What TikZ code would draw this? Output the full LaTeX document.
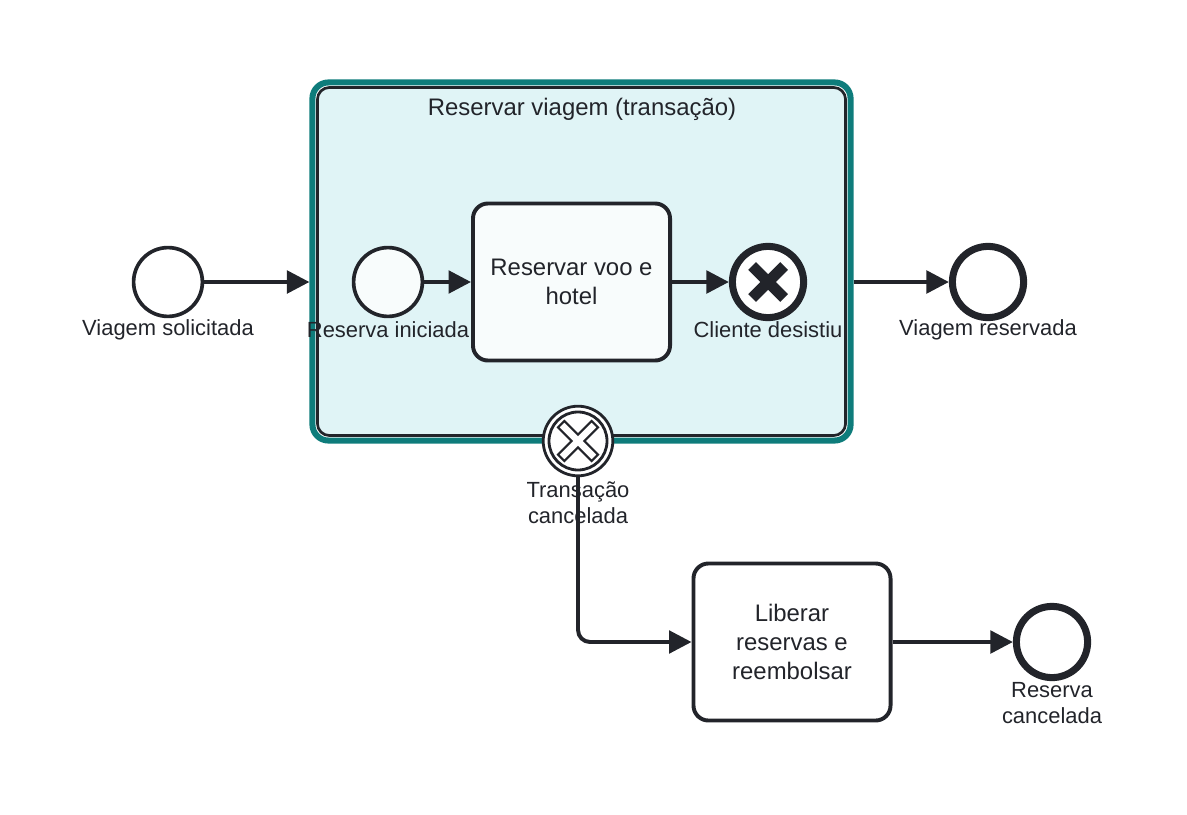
\documentclass[tikz,border=0pt]{standalone}
\usepackage{fontspec}
\setmainfont{Liberation Sans}
\usetikzlibrary{arrows.meta,positioning}
\definecolor{ink}{HTML}{22242A}
\definecolor{txteal}{HTML}{0E7C7B}
\definecolor{txfill}{HTML}{E0F4F6}
\definecolor{evfill}{HTML}{F8FCFC}
\newcommand{\lblsize}{\fontsize{15.6}{18.5}\selectfont}
\newcommand{\tasksize}{\fontsize{17}{20.5}\selectfont}

\begin{document}
\begin{tikzpicture}[x=0.025cm, y=-0.025cm,
    flow/.style={draw=ink, line width=2.8pt, -{Triangle[length=16pt,width=16pt]}},
    event/.style={circle, draw=ink, fill=white, line width=2.6pt, minimum size=1.72cm, inner sep=0pt},
    endevent/.style={event, line width=5pt, minimum size=1.78cm},
    task/.style={rectangle, rounded corners=0.375cm, draw=ink, fill=white, line width=2.8pt,
      minimum width=4.925cm, minimum height=3.925cm, align=center, font=\tasksize, text=ink},
    lbl/.style={align=center, font=\lblsize, text=ink, inner sep=0pt}]
  \useasboundingbox (0,0) rectangle (1187,814);
  % transaction
  \node[rectangle, rounded corners=0.4cm, draw=txteal, fill=white, line width=4.3pt,
    minimum width=13.45cm, minimum height=8.95cm] (tx) at (581.5,261.5) {};
  \node[rectangle, rounded corners=0.3cm, draw=ink, fill=txfill, line width=1.9pt,
    minimum width=13.2cm, minimum height=8.7cm] (tx-in) at (581.5,261.5) {};
  \node[font=\tasksize, text=ink] (tx-title) at (582,109) {Reservar viagem (transação)};

  % events and tasks
  \node[event] (vs) at (168,282) {};
  \node[event, fill=evfill] (ri) at (388,282) {};
  \node[task, fill=evfill] (rvh) at (571.5,282) {Reservar voo e\\hotel};
  \node[endevent] (cd) at (768,282) {};
  \node[endevent] (vr) at (988,282) {};
  \node[task] (lib) at (792,642) {Liberar\\reservas e\\reembolsar};
  \node[endevent] (rc) at (1052,642) {};
  \node[circle, draw=ink, fill=white, line width=2pt, minimum size=1.74cm, inner sep=0pt] (tc) at (578,441) {};
  \node[circle, draw=ink, line width=2pt, minimum size=1.45cm, inner sep=0pt] (tc-in) at (578,441) {};

  % cancel markers
  \begin{scope}[shift={(cd.center)}]
    \draw[ink, line width=7.8pt] (-16,-16) -- (16,16) (-16,16) -- (16,-16);
  \end{scope}
  \begin{scope}[shift={(tc.center)}, rotate=45]
    \def\h{4.5} \def\r{23.8}
    \draw[ink, line width=1.5pt, fill=white, line join=miter]
      (\h,\h) -- (\r,\h) -- (\r,-\h) -- (\h,-\h) -- (\h,-\r) -- (-\h,-\r) -- (-\h,-\h)
      -- (-\r,-\h) -- (-\r,\h) -- (-\h,\h) -- (-\h,\r) -- (\h,\r) -- cycle;
  \end{scope}

  % labels
  \node[lbl] (vs-lbl) at (168,330) {Viagem solicitada};
  \node[lbl] (ri-lbl) at (388,330) {Reserva iniciada};
  \node[lbl] (cd-lbl) at (768,330) {Cliente desistiu};
  \node[lbl] (vr-lbl) at (988,330) {Viagem reservada};
  \node[lbl] (tc-lbl) at (578,503) {Transação\\cancelada};
  \node[lbl] (rc-lbl) at (1052,703) {Reserva\\cancelada};

  % flows
  \draw[flow] (vs) -- (vs -| tx.west);
  \draw[flow] (ri) -- (rvh);
  \draw[flow] (rvh) -- (cd);
  \draw[flow] (vr -| tx.east) -- (vr);
  \draw[flow, rounded corners=0.3cm] (tc.south) |- (lib.west);
  \draw[flow] (lib) -- (rc);
\end{tikzpicture}
\end{document}
